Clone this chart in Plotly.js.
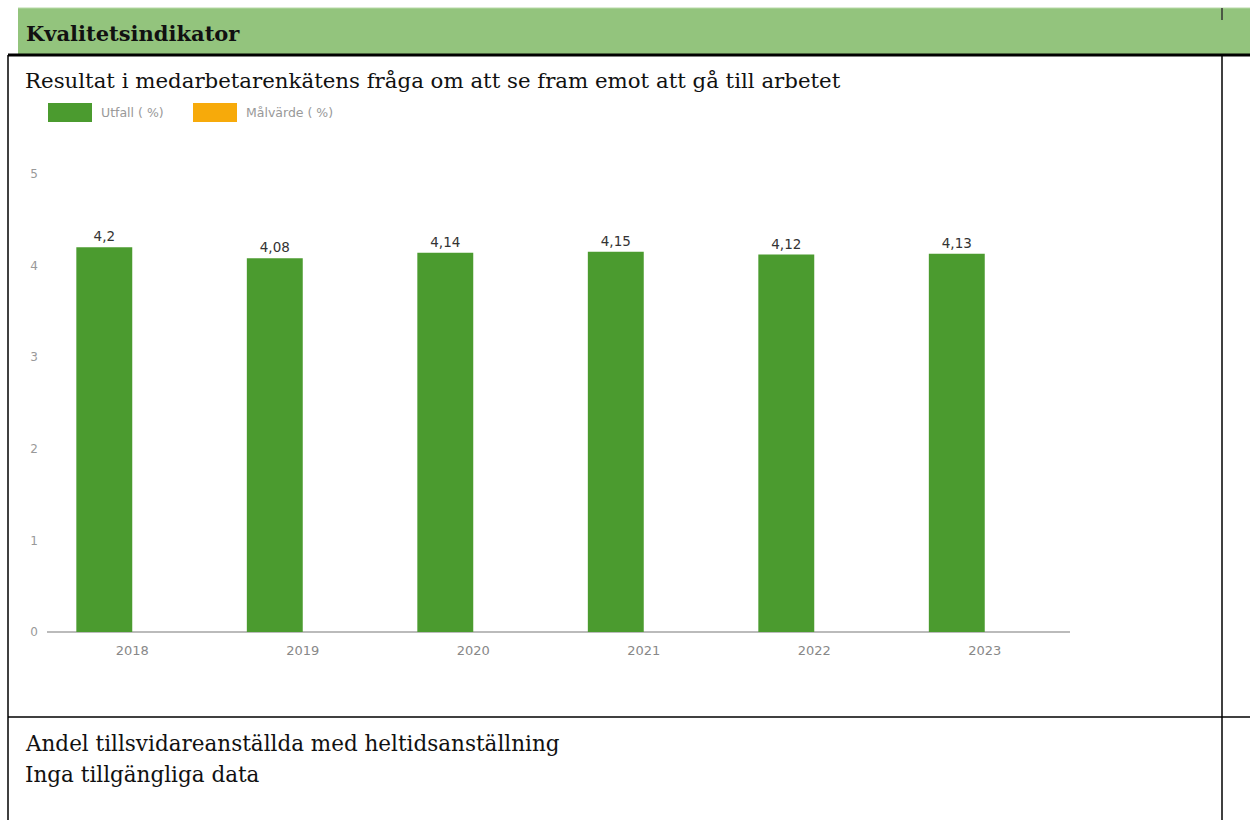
<!DOCTYPE html>
<html><head><meta charset="utf-8">
<script src="https://cdn.plot.ly/plotly-3.0.1.min.js"></script>
<style>html,body{margin:0;padding:0;background:#fff}#c{width:1250px;height:820px}</style>
</head><body><div id="c"></div>
<script>
const years = ['2018','2019','2020','2021','2022','2023'];
const utfall = [4.2, 4.08, 4.14, 4.15, 4.12, 4.13];
const malvarde = [null, null, null, null, null, null];
const yTicks = [0,1,2,3,4,5];
const headerText = 'Kvalitetsindikator';
const subtitleText = 'Resultat i medarbetarenkätens fråga om att se fram emot att gå till arbetet';
const legendNames = ['Utfall ( %)', 'Målvärde ( %)'];
const lowerLines = ['Andel tillsvidareanställda med heltidsanställning', 'Inga tillgängliga data'];

const W = 1250, H = 820, L = 47, R = 1070, T = 174, B = 632;
const px = x => (x - L) / (R - L);
const py = y => (B - y) / (B - T);

const green = '#4b9b2f', orange = '#f7aa0a';
const serif = 'DejaVu Serif, serif';
const sans = 'DejaVu Sans, sans-serif';

const traces = [
  {type:'bar', x: years, y: utfall, name: legendNames[0], marker:{color: green},
   offset: -0.328, width: 0.328, text: utfall.map(v => v.toLocaleString('sv-SE')),
   textposition:'outside', textfont:{family: sans, size:13.5, color:'#333'},
   cliponaxis:false, showlegend:false, hoverinfo:'x+y'},
  {type:'bar', x: years, y: malvarde, name: legendNames[1], marker:{color: orange},
   offset: 0, width: 0.328, showlegend:false}
];

const line = (x0,y0,x1,y1,w,c) => ({type:'line', xref:'paper', yref:'paper',
  x0:px(x0), y0:py(y0), x1:px(x1), y1:py(y1), line:{color:c||'#000', width:w}});
const rect = (x0,y0,x1,y1,fill) => ({type:'rect', xref:'paper', yref:'paper',
  x0:px(x0), y0:py(y0), x1:px(x1), y1:py(y1), fillcolor:fill, line:{width:0}, layer:'below'});
const text = (x,y,t,font,anchor) => ({xref:'paper', yref:'paper', x:px(x), y:py(y), text:t,
  showarrow:false, xanchor:anchor||'left', yanchor:'middle', font:font});

const shapes = [
  rect(18, 8, 1250, 54, '#93c47d'),
  line(18, 8, 1250, 8, 1, '#b8d9a8'),
  line(8, 55, 1250, 55, 3, '#000'),
  line(8, 55, 8, 820, 1.5, '#000'),
  line(1222, 55, 1222, 820, 1.5, '#000'),
  line(1222, 8, 1222, 20, 1.5, '#333'),
  line(8, 717, 1250, 717, 1.5, '#000'),
  rect(48, 103, 92, 122, green),
  rect(193, 103, 237, 122, orange)
];

const annotations = [
  text(24, 33, '<b>' + headerText + '</b>', {family: serif, size: 21, color:'#111'}),
  text(23, 80, subtitleText, {family: serif, size: 21.3, color:'#111'}),
  text(99, 112, legendNames[0], {family: sans, size:12.5, color:'#999'}),
  text(244, 112, legendNames[1], {family: sans, size:12.5, color:'#999'}),
  text(23, 743, lowerLines[0], {family: serif, size: 21.5, color:'#111'}),
  text(23, 774, lowerLines[1], {family: serif, size: 21.5, color:'#111'})
];

const layout = {
  width: W, height: H,
  margin: {l: L, r: W - R, t: T, b: H - B, pad: 0},
  paper_bgcolor:'#fff', plot_bgcolor:'#fff',
  separators: ', ',
  showlegend: false,
  bargap: 0.343,
  xaxis: {type:'category', categoryorder:'array', categoryarray: years,
    showgrid:false, zeroline:false, showline:false, ticks:'',
    tickfont:{family: sans, size:13, color:'#888'}, ticklabelstandoff:9, fixedrange:true},
  yaxis: {range:[0,5], tickvals: yTicks, showgrid:false, zeroline:true,
    zerolinecolor:'#bbb', zerolinewidth:1.5, showline:false, ticks:'',
    tickfont:{family: sans, size:12, color:'#999'}, ticklabelstandoff:8, fixedrange:true},
  shapes: shapes,
  annotations: annotations
};

Plotly.newPlot('c', traces, layout, {displayModeBar:false, staticPlot:true});
</script></body></html>
